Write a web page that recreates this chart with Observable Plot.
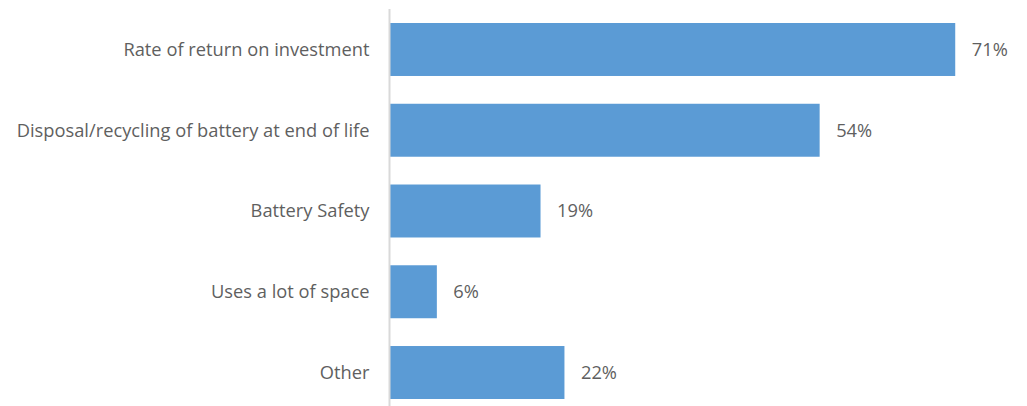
<!DOCTYPE html>
<html>
<head>
<meta charset="utf-8">
<script src="https://cdn.jsdelivr.net/npm/d3@7"></script>
<script src="https://cdn.jsdelivr.net/npm/@observablehq/plot@0.6"></script>
<style>
  html, body { margin: 0; padding: 0; background: #fff; }
  #chart svg { display: block; }
</style>
</head>
<body>
<div id="chart"></div>
<script>
const categories = [
  "Rate of return on investment",
  "Disposal/recycling of battery at end of life",
  "Battery Safety",
  "Uses a lot of space",
  "Other"
];
const values = [71, 54, 19, 6, 22];

const data = categories.map((c, i) => ({category: c, value: values[i]}));

const chart = Plot.plot({
  width: 1027,
  height: 406,
  marginTop: 23,
  marginBottom: 7,
  marginLeft: 389,
  marginRight: 0,
  style: {fontFamily: "'Open Sans', sans-serif", fontSize: "18.3px", color: "#5f5f5f", background: "#fff"},
  x: {domain: [0, 80], axis: null},
  y: {domain: categories, padding: 0.344, paddingOuter: 0, round: false, label: null, tickSize: 0, tickPadding: 20},
  marks: [
    Plot.barX(data, {x: "value", y: "category", fill: "#5B9BD5"}),
    Plot.ruleX([0], {stroke: "#d9d9d9", strokeWidth: 2, insetTop: -14, insetBottom: -7}),
    Plot.text(data, {x: "value", y: "category", text: d => d.value + "%", textAnchor: "start", dx: 16, fill: "#5f5f5f", fontSize: 18.3}),
    Plot.axisY({tickSize: 0, tickPadding: 20, fontSize: 18.3, fill: "#5f5f5f", label: null})
  ]
});
document.getElementById("chart").appendChild(chart);
</script>
</body>
</html>
